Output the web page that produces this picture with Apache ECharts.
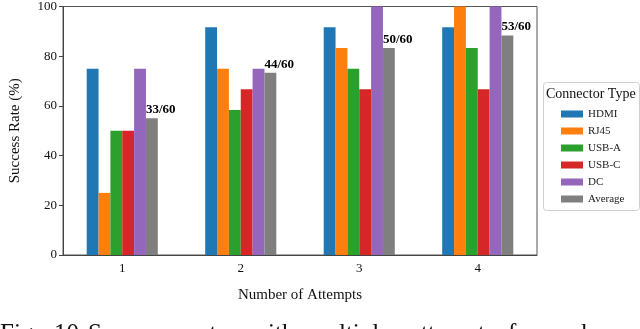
<!DOCTYPE html>
<html lang="en">
<head>
  <meta charset="UTF-8">
  <title>Success rate</title>
  <script src="https://cdn.jsdelivr.net/npm/echarts@6/dist/echarts.min.js"></script>
  <style>
    html, body { margin: 0; padding: 0; background: #fff; }
    #chart { width: 640px; height: 329px; }
  </style>
</head>
<body>
  <div id="chart"></div>
  <script>
    // data
    var attempts = ['1', '2', '3', '4'];
    var hdmi = [75, 91.67, 91.67, 91.67];
    var rj45 = [25, 75, 83.33, 100];
    var usbA = [50, 58.33, 75, 83.33];
    var usbC = [50, 66.67, 66.67, 66.67];
    var dc = [75, 75, 100, 100];
    var average = [55, 73.33, 83.33, 88.33];
    var avgLabels = ['33/60', '44/60', '50/60', '53/60'];
    var yTicks = [0, 20, 40, 60, 80, 100];

    // clipped caption under the figure (justified, so words are placed one by one)
    var captionWords = ['Fig.', '10:', 'Success', 'rate', 'with', 'multiple', 'attempts', 'for', 'each'];
    var captionX = [0, 54, 88, 190, 250, 307, 410, 508, 548];

    var font = 'Liberation Serif';
    var names = ['HDMI', 'RJ45', 'USB-A', 'USB-C', 'DC', 'Average'];
    var colors = ['#1f77b4', '#ff7f0e', '#2ca02c', '#d62728', '#9467bd', '#7f7f7f'];
    var values = [hdmi, rj45, usbA, usbC, dc, average];

    var series = [];
    for (var i = 0; i < names.length; i++) {
      var s = {
        name: names[i],
        type: 'bar',
        data: values[i],
        barGap: '0%',
        barCategoryGap: '40%',
        itemStyle: { color: colors[i] }
      };
      if (names[i] === 'Average') {
        s.label = {
          show: true,
          position: [0, -2],
          align: 'left',
          verticalAlign: 'bottom',
          fontFamily: font,
          fontWeight: 'bold',
          fontSize: 13,
          color: '#000',
          formatter: function (p) { return avgLabels[p.dataIndex]; }
        };
      }
      series.push(s);
    }

    var graphics = [
      {
        type: 'rect',
        shape: { x: 543.5, y: 82.5, width: 96, height: 128, r: 3 },
        style: { fill: 'rgba(255,255,255,0.8)', stroke: '#d0d0d0', lineWidth: 1 },
        z: 0
      },
      {
        type: 'text', left: 546, top: 87,
        style: { text: 'Connector Type', font: '14px "Liberation Serif"', fill: '#111' }
      }
    ];
    for (var w = 0; w < captionWords.length; w++) {
      graphics.push({
        type: 'text', left: captionX[w], top: 322,
        style: { text: captionWords[w], font: '25px "Liberation Serif"', fill: '#111' }
      });
    }

    var myChart = echarts.init(document.getElementById('chart'), null, { renderer: 'canvas' });
    myChart.setOption({
      animation: false,
      textStyle: { fontFamily: font },
      grid: {
        left: 62, right: 103, top: 4, bottom: 74,
        show: true, borderColor: '#555', borderWidth: 1
      },
      legend: {
        orient: 'vertical',
        left: 556, top: 102,
        itemWidth: 22, itemHeight: 7, itemGap: 3,
        icon: 'rect',
        textStyle: { fontFamily: font, fontSize: 11, lineHeight: 14, color: '#222' },
        data: names
      },
      graphic: graphics,
      xAxis: {
        type: 'category',
        data: attempts,
        name: 'Number of Attempts',
        nameLocation: 'middle',
        nameGap: 33,
        nameTextStyle: { fontFamily: font, fontSize: 15, color: '#111' },
        axisLine: { lineStyle: { color: '#444' } },
        axisTick: { alignWithLabel: true, length: 4, lineStyle: { color: '#444' } },
        axisLabel: { fontFamily: font, fontSize: 13, color: '#111', margin: 7 }
      },
      yAxis: {
        type: 'value',
        min: yTicks[0],
        max: yTicks[yTicks.length - 1],
        interval: 20,
        name: 'Success Rate (%)',
        nameLocation: 'middle',
        nameGap: 40,
        nameTextStyle: { fontFamily: font, fontSize: 15, color: '#111' },
        axisLine: { show: true, lineStyle: { color: '#444' } },
        axisTick: { show: true, length: 4, lineStyle: { color: '#444' } },
        axisLabel: { fontFamily: font, fontSize: 13, color: '#111', margin: 6 },
        splitLine: { show: false }
      },
      series: series
    });
  </script>
</body>
</html>
